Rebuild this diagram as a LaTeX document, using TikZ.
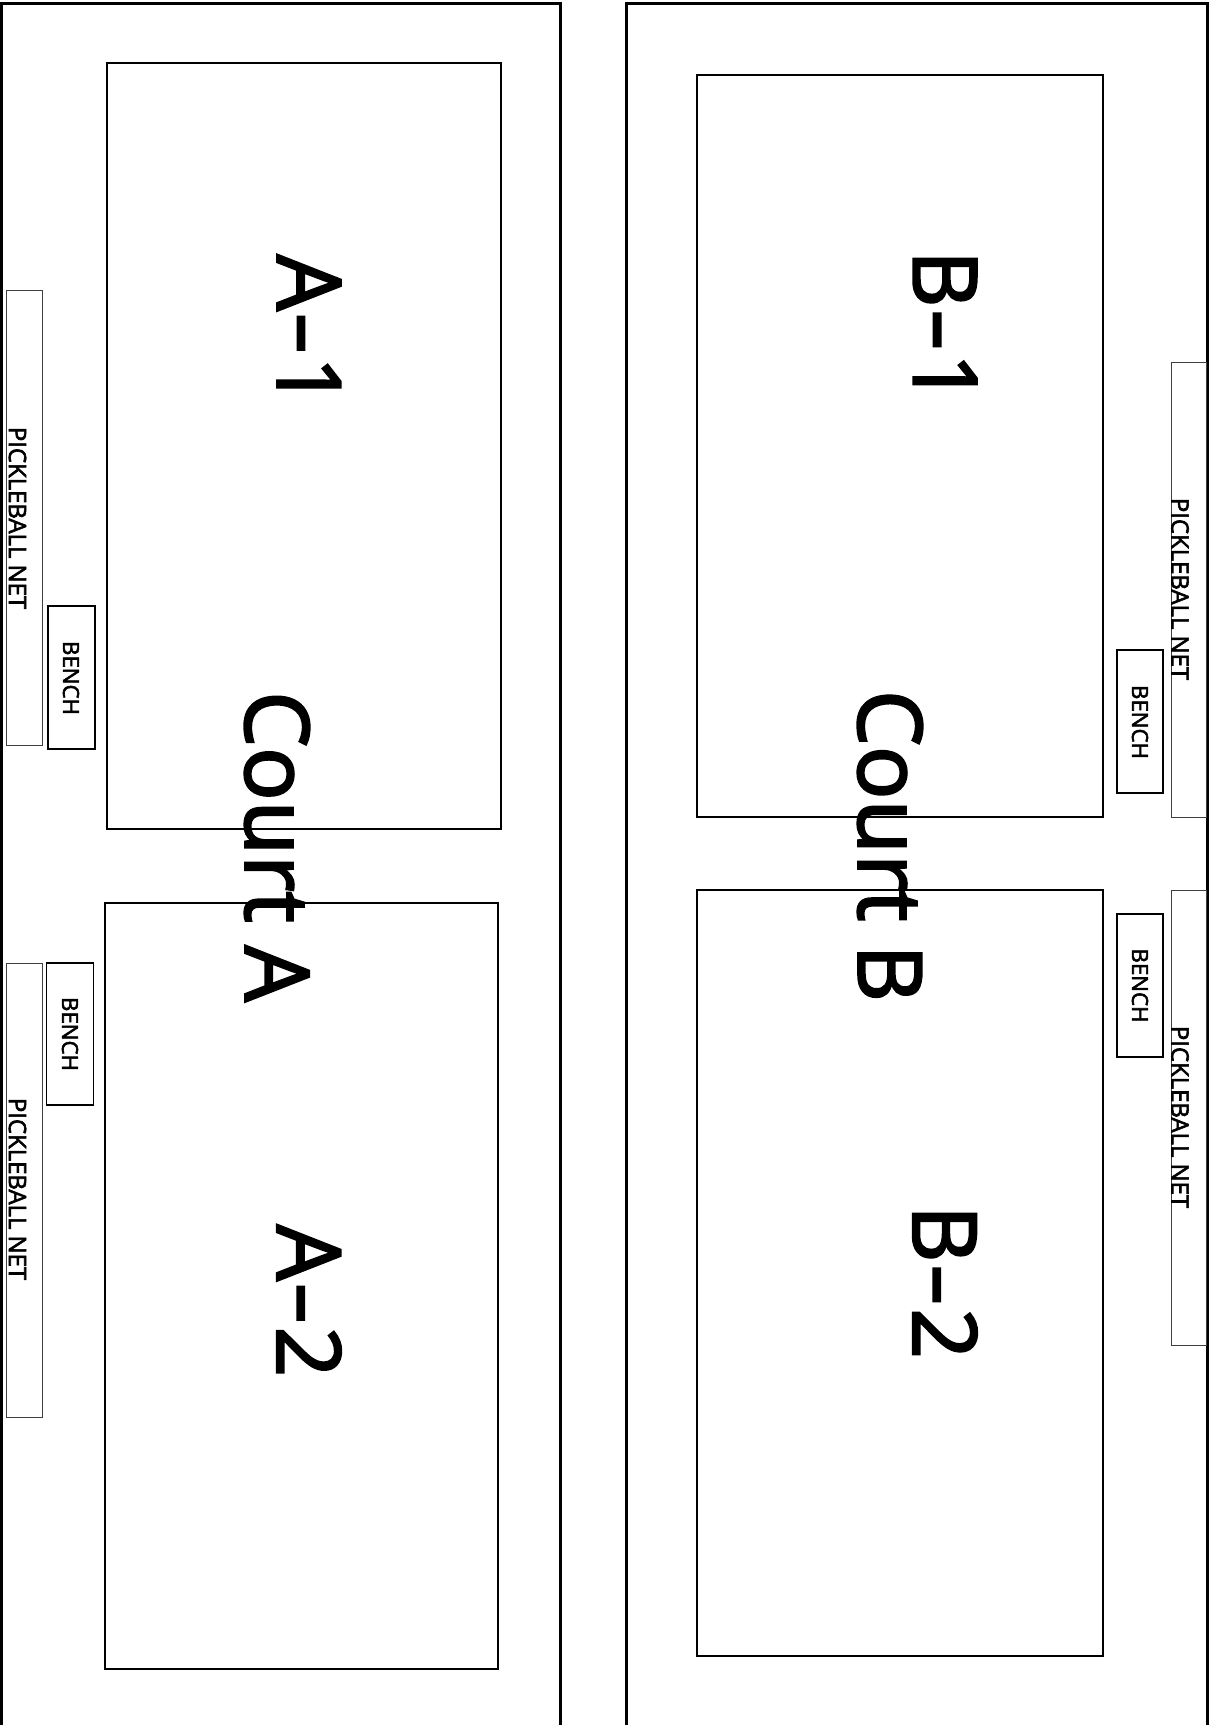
\documentclass[tikz,border=0pt]{standalone}
\usepackage{fontspec}
\setmainfont{Open Sans}
\newfontfamily\thickfont{Open Sans}[FakeBold=2.5]
\newcommand{\courtdash}{\kern1bp\scalebox{1.5}[1]{-}\kern2bp}
\begin{document}
\begin{tikzpicture}[x=1bp,y=-1bp,
  outer/.style={line width=3bp},
  courtbox/.style={draw,line width=2bp,inner sep=0,outer sep=0},
  netbox/.style={draw=black!75,line width=1bp,inner sep=0,outer sep=0},
  benchbox/.style={draw,line width=1.2bp,inner sep=0,outer sep=0},
  biglabel/.style={rotate=-90,inner sep=0,font=\thickfont\fontsize{89}{89}\selectfont},
  netlabel/.style={rotate=-90,inner sep=0,font=\thickfont\fontsize{24}{24}\selectfont},
  benchlabel/.style={rotate=-90,inner sep=0,font=\thickfont\fontsize{22.3}{22.3}\selectfont}]
\clip (0,0) rectangle (1217,1725);
% outer areas
\draw[outer] (1,1800) -- (1,3) -- (560,3) -- (560,1800);
\draw[outer] (626,1800) -- (626,3) -- (1207,3) -- (1207,1800);
% courts
\node[courtbox,minimum width=394bp,minimum height=766bp] (A1) at (304,446) {};
\node[courtbox,minimum width=393bp,minimum height=766bp] (A2) at (301.5,1286) {};
\node[courtbox,minimum width=406bp,minimum height=742bp] (B1) at (900,446) {};
\node[courtbox,minimum width=406bp,minimum height=766bp] (B2) at (900,1273) {};
% nets
\node[netbox,minimum width=35bp,minimum height=455bp] (NA1) at (24.5,517.5) {};
\node[netbox,minimum width=35bp,minimum height=454bp] (NA2) at (24.5,1190) {};
\node[netbox,minimum width=35bp,minimum height=455bp] (NB1) at (1188.5,589.5) {};
\node[netbox,minimum width=35bp,minimum height=455bp] (NB2) at (1188.5,1117.5) {};
% benches
\node[benchbox,minimum width=47bp,minimum height=143bp] (BA1) at (71.5,677.5) {};
\node[benchbox,minimum width=47bp,minimum height=142bp] (BA2) at (70,1034) {};
\node[benchbox,minimum width=46bp,minimum height=143bp] (BB1) at (1140,721.5) {};
\node[benchbox,minimum width=46bp,minimum height=143bp] (BB2) at (1140,985.5) {};
% labels
\node[biglabel] (tA1) at (309,331) {A\courtdash 1};
\node[biglabel] (tA2) at (309,1301) {A\courtdash 2};
\node[biglabel] (tB1) at (945,327) {B\courtdash 1};
\node[biglabel] (tB2) at (945,1282) {B\courtdash 2};
\node[biglabel] (tCA) at (277,846.5) {Court A};
\node[biglabel] (tCB) at (890,846) {Court B};
\node[netlabel] (tNA1) at (17.5,518) {PICKLEBALL NET};
\node[netlabel] (tNA2) at (17.5,1189) {PICKLEBALL NET};
\node[netlabel] (tNB1) at (1180,589) {PICKLEBALL NET};
\node[netlabel] (tNB2) at (1180,1117) {PICKLEBALL NET};
\node[benchlabel] (tBA1) at (71,678) {BENCH};
\node[benchlabel] (tBA2) at (70,1034) {BENCH};
\node[benchlabel] (tBB1) at (1140,722) {BENCH};
\node[benchlabel] (tBB2) at (1140,985.5) {BENCH};
\end{tikzpicture}
\end{document}
